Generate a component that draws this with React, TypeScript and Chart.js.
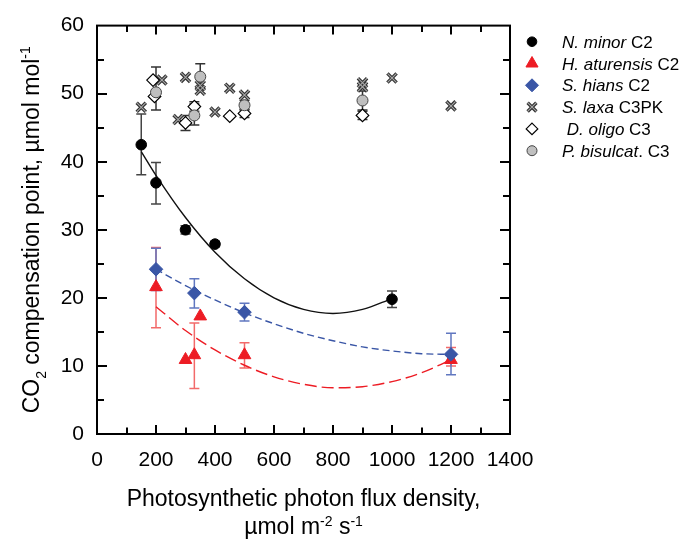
import React, { useEffect, useRef } from 'react';
import { Chart, registerables } from 'chart.js';

Chart.register(...registerables);

const FONT = '"Liberation Sans", Arial, Helvetica, sans-serif';

// ---- Data ----
// N. minor C2
const nMinorX = [150, 200, 300, 400, 1000];
const nMinorY = [42.5, 36.9, 30.0, 27.9, 19.8];
const nMinorLow = [38.1, 33.8, 29.4, 27.5, 18.6];
const nMinorHigh = [47.0, 39.9, 30.6, 28.3, 21.0];

// H. aturensis C2
const hAturX = [200, 300, 330, 350, 500, 1200];
const hAturY = [21.6, 10.9, 11.6, 17.3, 11.6, 10.9];
const hAturLow = [15.6, null, 6.7, null, 9.7, 10.0];
const hAturHigh = [27.4, null, 16.3, null, 13.4, 12.7];

// S. hians C2
const sHiansX = [200, 330, 500, 1200];
const sHiansY = [24.2, 20.7, 17.9, 11.7];
const sHiansLow = [21.1, 18.5, 16.6, 8.7];
const sHiansHigh = [27.3, 22.8, 19.2, 14.8];

// S. laxa C3PK
const sLaxaX = [150, 220, 275, 300, 350, 350, 400, 450, 500, 900, 900, 1000, 1200];
const sLaxaY = [48.0, 52.0, 46.2, 52.4, 51.2, 50.5, 47.3, 50.8, 49.8, 51.6, 51.0, 52.3, 48.2];

// D. oligo C3
const dOligoX = [190, 195, 300, 330, 450, 500, 900];
const dOligoY = [52.0, 49.6, 45.7, 48.1, 46.7, 47.1, 46.8];
const dOligoLow = [null, null, 44.6, 47.4, null, 46.5, 46.2];
const dOligoHigh = [null, null, 46.8, 48.8, null, 47.7, 47.4];

// P. bisulcat. C3
const pBisX = [200, 330, 350, 500, 900];
const pBisY = [50.2, 46.8, 52.5, 48.3, 49.0];
const pBisLow = [47.6, 45.4, 50.6, 47.6, 47.6];
const pBisHigh = [53.9, 48.5, 54.4, 49.0, 50.4];

// Fitted curves (as drawn)
const fitBlackX = [150, 200, 300, 400, 500, 600, 700, 800, 900, 1000];
const fitBlackY = [41.5, 38.0, 31.8, 26.7, 22.8, 20.0, 18.3, 17.7, 18.3, 19.9];
const fitRedX = [200, 300, 400, 500, 600, 700, 800, 900, 1000, 1100, 1200];
const fitRedY = [18.7, 15.2, 12.35, 10.1, 8.4, 7.3, 6.8, 6.95, 7.7, 9.0, 10.9];
const fitBlueX = [200, 300, 400, 500, 600, 700, 800, 900, 1000, 1100, 1200];
const fitBlueY = [24.2, 21.8, 19.7, 17.8, 16.2, 14.8, 13.7, 12.8, 12.2, 11.8, 11.7];

// Axis
const xMin = 0, xMax = 1400, xStep = 200, xMinorStep = 100;
const yMin = 0, yMax = 60, yStep = 10, yMinorStep = 5;

const RED = '#ed1c24';
const BLUE = '#3a56a6';

const pts = (xs: number[], ys: number[]) => xs.map((x, i) => ({ x, y: ys[i] }));

type Part = { t: string; k?: 'i' | 'sup' | 'sub' };

function fontFor(p: Part, size: number) {
  if (p.k === 'sup' || p.k === 'sub') return `${Math.round(size * 0.6)}px ${FONT}`;
  if (p.k === 'i') return `italic ${size}px ${FONT}`;
  return `${size}px ${FONT}`;
}

function drawRich(ctx: CanvasRenderingContext2D, parts: Part[], x: number, y: number, size: number, align: 'center' | 'left') {
  ctx.textAlign = 'left';
  ctx.textBaseline = 'alphabetic';
  const widths = parts.map((p) => {
    ctx.font = fontFor(p, size);
    return ctx.measureText(p.t).width;
  });
  const total = widths.reduce((a, b) => a + b, 0);
  let cx = align === 'center' ? x - total / 2 : x;
  parts.forEach((p, i) => {
    ctx.font = fontFor(p, size);
    const dy = p.k === 'sup' ? -size * 0.36 : p.k === 'sub' ? size * 0.34 : 0;
    ctx.fillText(p.t, cx, y + dy);
    cx += widths[i];
  });
}

const errorBarPlugin = {
  id: 'errorBars',
  beforeDatasetsDraw(chart: any) {
    const ctx = chart.ctx;
    const xs = chart.scales.x;
    const ys = chart.scales.y;
    chart.data.datasets.forEach((ds: any) => {
      const eb = ds.errorBars;
      if (!eb) return;
      ds.data.forEach((p: any, j: number) => {
        const lo = eb.low[j];
        const hi = eb.high[j];
        if (lo == null || hi == null) return;
        const px = xs.getPixelForValue(p.x);
        const y1 = ys.getPixelForValue(lo);
        const y2 = ys.getPixelForValue(hi);
        ctx.save();
        ctx.strokeStyle = eb.color;
        ctx.lineWidth = 1.5;
        ctx.beginPath();
        ctx.moveTo(px, y1);
        ctx.lineTo(px, y2);
        ctx.moveTo(px - 5, y1);
        ctx.lineTo(px + 5, y1);
        ctx.moveTo(px - 5, y2);
        ctx.lineTo(px + 5, y2);
        ctx.stroke();
        ctx.restore();
      });
    });
  },
};

const framePlugin = {
  id: 'frame',
  afterDatasetsDraw(chart: any) {
    const ctx = chart.ctx;
    const { left, right, top, bottom } = chart.chartArea;
    const xs = chart.scales.x;
    const ys = chart.scales.y;
    ctx.save();
    ctx.strokeStyle = '#000';
    ctx.lineWidth = 2;
    ctx.strokeRect(left, top, right - left, bottom - top);
    ctx.beginPath();
    for (let v = xMin + xMinorStep; v < xMax; v += xMinorStep) {
      const px = Math.round(xs.getPixelForValue(v));
      const len = v % xStep === 0 ? 9 : 6.5;
      ctx.moveTo(px, bottom);
      ctx.lineTo(px, bottom - len);
      ctx.moveTo(px, top);
      ctx.lineTo(px, top + len);
    }
    for (let v = yMin + yMinorStep; v < yMax; v += yMinorStep) {
      const py = Math.round(ys.getPixelForValue(v));
      const len = v % yStep === 0 ? 10 : 7;
      ctx.moveTo(left, py);
      ctx.lineTo(left + len, py);
      ctx.moveTo(right, py);
      ctx.lineTo(right - len, py);
    }
    ctx.stroke();
    ctx.restore();
  },
};

const legendItems: { parts: Part[]; style: any }[] = [
  { parts: [{ t: 'N. minor', k: 'i' }, { t: ' C2' }], style: { pointStyle: 'circle', radius: 4.8, bg: '#000', border: '#000', bw: 1 } },
  { parts: [{ t: 'H. aturensis', k: 'i' }, { t: ' C2' }], style: { pointStyle: 'triangle', radius: 7, bg: RED, border: RED, bw: 1 } },
  { parts: [{ t: 'S. hians', k: 'i' }, { t: ' C2' }], style: { pointStyle: 'rectRot', radius: 6.5, bg: BLUE, border: BLUE, bw: 1 } },
  { parts: [{ t: 'S. laxa', k: 'i' }, { t: ' C3PK' }], style: { pointStyle: 'crossRot', radius: 6.2, bg: '#333', border: '#333', bw: 3.4, inner: '#a8a8a8' } },
  { parts: [{ t: ' D. oligo', k: 'i' }, { t: ' C3' }], style: { pointStyle: 'rectRot', radius: 5.8, bg: '#fff', border: '#000', bw: 1.2 } },
  { parts: [{ t: 'P. bisulcat', k: 'i' }, { t: '. C3' }], style: { pointStyle: 'circle', radius: 5, bg: '#c0c0c0', border: '#444', bw: 1 } },
];

function drawMarker(ctx: CanvasRenderingContext2D, s: any, x: number, y: number) {
  ctx.save();
  ctx.fillStyle = s.bg;
  ctx.strokeStyle = s.border;
  ctx.lineWidth = s.bw;
  const r = s.radius;
  ctx.beginPath();
  if (s.pointStyle === 'circle') {
    ctx.arc(x, y, r, 0, Math.PI * 2);
    ctx.fill();
    ctx.stroke();
  } else if (s.pointStyle === 'triangle') {
    for (let k = 0; k < 3; k++) {
      const a = (k * 2 * Math.PI) / 3;
      const px = x + Math.sin(a) * r;
      const py = y - Math.cos(a) * r;
      if (k === 0) ctx.moveTo(px, py);
      else ctx.lineTo(px, py);
    }
    ctx.closePath();
    ctx.fill();
    ctx.stroke();
  } else if (s.pointStyle === 'rectRot') {
    ctx.moveTo(x, y - r);
    ctx.lineTo(x + r, y);
    ctx.lineTo(x, y + r);
    ctx.lineTo(x - r, y);
    ctx.closePath();
    ctx.fill();
    ctx.stroke();
  } else if (s.pointStyle === 'crossRot') {
    const o = r * Math.SQRT1_2;
    ctx.moveTo(x - o, y - o);
    ctx.lineTo(x + o, y + o);
    ctx.moveTo(x + o, y - o);
    ctx.lineTo(x - o, y + o);
    ctx.stroke();
    if (s.inner) {
      ctx.strokeStyle = s.inner;
      ctx.lineWidth = 1.1;
      ctx.stroke();
    }
  }
  ctx.restore();
}

const textPlugin = {
  id: 'texts',
  afterDraw(chart: any) {
    const ctx = chart.ctx;
    const { left, right, top, bottom } = chart.chartArea;
    const cxMid = (left + right) / 2;
    const cyMid = (top + bottom) / 2;
    ctx.save();
    ctx.fillStyle = '#000';
    // x title
    drawRich(ctx, [{ t: 'Photosynthetic photon flux density,' }], cxMid, 505.5, 23, 'center');
    drawRich(ctx, [{ t: 'µmol m' }, { t: '-2', k: 'sup' }, { t: ' s' }, { t: '-1', k: 'sup' }], cxMid, 534, 23, 'center');
    // y title
    ctx.save();
    ctx.translate(38.5, cyMid);
    ctx.rotate(-Math.PI / 2);
    drawRich(ctx, [{ t: 'CO' }, { t: '2', k: 'sub' }, { t: ' compensation point, µmol mol' }, { t: '-1', k: 'sup' }], 0, 0, 23, 'center');
    ctx.restore();
    // legend
    const lx = 532;
    const tx = 562;
    const rowY = [41.7, 63.5, 85.3, 107.1, 128.9, 150.7];
    legendItems.forEach((it, i) => {
      drawMarker(ctx, it.style, lx, rowY[i]);
      ctx.fillStyle = '#000';
      drawRich(ctx, it.parts, tx, rowY[i] + 6, 17, 'left');
    });
    ctx.restore();
  },
};

export default function App() {
  const ref = useRef<HTMLCanvasElement | null>(null);

  useEffect(() => {
    if (!ref.current) return;
    const chart = new Chart(ref.current, {
      type: 'scatter',
      data: {
        datasets: [
          {
            label: 'fit N. minor',
            data: pts(fitBlackX, fitBlackY),
            showLine: true,
            pointRadius: 0,
            borderColor: '#111',
            borderWidth: 1.4,
            cubicInterpolationMode: 'monotone',
            order: 20,
          } as any,
          {
            label: 'fit H. aturensis',
            data: pts(fitRedX, fitRedY),
            showLine: true,
            pointRadius: 0,
            borderColor: RED,
            borderWidth: 1.4,
            borderDash: [12, 5],
            cubicInterpolationMode: 'monotone',
            order: 21,
          } as any,
          {
            label: 'fit S. hians',
            data: pts(fitBlueX, fitBlueY),
            showLine: true,
            pointRadius: 0,
            borderColor: BLUE,
            borderWidth: 1.4,
            borderDash: [7, 4],
            cubicInterpolationMode: 'monotone',
            order: 22,
          } as any,
          {
            label: 'S. laxa C3PK (inner)',
            data: pts(sLaxaX, sLaxaY),
            pointStyle: 'crossRot',
            pointRadius: 6.5,
            borderColor: '#a8a8a8',
            backgroundColor: '#a8a8a8',
            borderWidth: 1.1,
            order: 6,
          } as any,
          {
            label: 'S. laxa C3PK',
            data: pts(sLaxaX, sLaxaY),
            pointStyle: 'crossRot',
            pointRadius: 6.5,
            borderColor: '#333',
            backgroundColor: '#333',
            borderWidth: 3.4,
            order: 7,
          } as any,
          {
            label: 'D. oligo C3',
            data: pts(dOligoX, dOligoY),
            pointStyle: 'rectRot',
            pointRadius: 6.3,
            borderColor: '#000',
            backgroundColor: '#fff',
            borderWidth: 1.2,
            errorBars: { low: dOligoLow, high: dOligoHigh, color: '#333' },
            order: 5,
          } as any,
          {
            label: 'P. bisulcat. C3',
            data: pts(pBisX, pBisY),
            pointStyle: 'circle',
            pointRadius: 5.5,
            borderColor: '#444',
            backgroundColor: '#bfbfbf',
            borderWidth: 1,
            errorBars: { low: pBisLow, high: pBisHigh, color: '#333' },
            order: 4,
          } as any,
          {
            label: 'H. aturensis C2',
            data: pts(hAturX, hAturY),
            pointStyle: 'triangle',
            pointRadius: 7.3,
            borderColor: RED,
            backgroundColor: RED,
            borderWidth: 1,
            errorBars: { low: hAturLow, high: hAturHigh, color: '#f26a6a' },
            order: 3,
          } as any,
          {
            label: 'S. hians C2',
            data: pts(sHiansX, sHiansY),
            pointStyle: 'rectRot',
            pointRadius: 6.8,
            borderColor: BLUE,
            backgroundColor: BLUE,
            borderWidth: 1,
            errorBars: { low: sHiansLow, high: sHiansHigh, color: '#6077c0' },
            order: 2,
          } as any,
          {
            label: 'N. minor C2',
            data: pts(nMinorX, nMinorY),
            pointStyle: 'circle',
            pointRadius: 5.3,
            borderColor: '#000',
            backgroundColor: '#000',
            borderWidth: 1,
            errorBars: { low: nMinorLow, high: nMinorHigh, color: '#444' },
            order: 1,
          } as any,
        ],
      },
      options: {
        animation: false,
        responsive: false,
        maintainAspectRatio: false,
        devicePixelRatio: 1,
        layout: { padding: { left: 0, right: 174, top: 21, bottom: 0 } },
        plugins: {
          legend: { display: false },
          tooltip: { enabled: false },
        },
        scales: {
          x: {
            type: 'linear',
            min: xMin,
            max: xMax,
            ticks: {
              stepSize: xStep,
              color: '#000',
              font: { family: FONT, size: 21 },
              padding: 14,
              maxRotation: 0,
              autoSkip: false,
              callback: (v: any) => String(v),
            },
            grid: { display: false, drawTicks: false },
            border: { display: false },
            afterFit: (s: any) => {
              s.height = 109;
            },
          },
          y: {
            type: 'linear',
            min: yMin,
            max: yMax,
            ticks: {
              stepSize: yStep,
              color: '#000',
              font: { family: FONT, size: 21 },
              padding: 13,
              callback: (v: any) => String(v),
            },
            grid: { display: false, drawTicks: false },
            border: { display: false },
            afterFit: (s: any) => {
              s.width = 97;
            },
          },
        },
      } as any,
      plugins: [errorBarPlugin, framePlugin, textPlugin],
    });
    return () => chart.destroy();
  }, []);

  return (
    <div style={{ position: 'absolute', left: 0, top: 0, width: 684, height: 543, background: '#fff' }}>
      <canvas ref={ref} width={684} height={543} style={{ width: 684, height: 543, display: 'block' }} />
    </div>
  );
}
